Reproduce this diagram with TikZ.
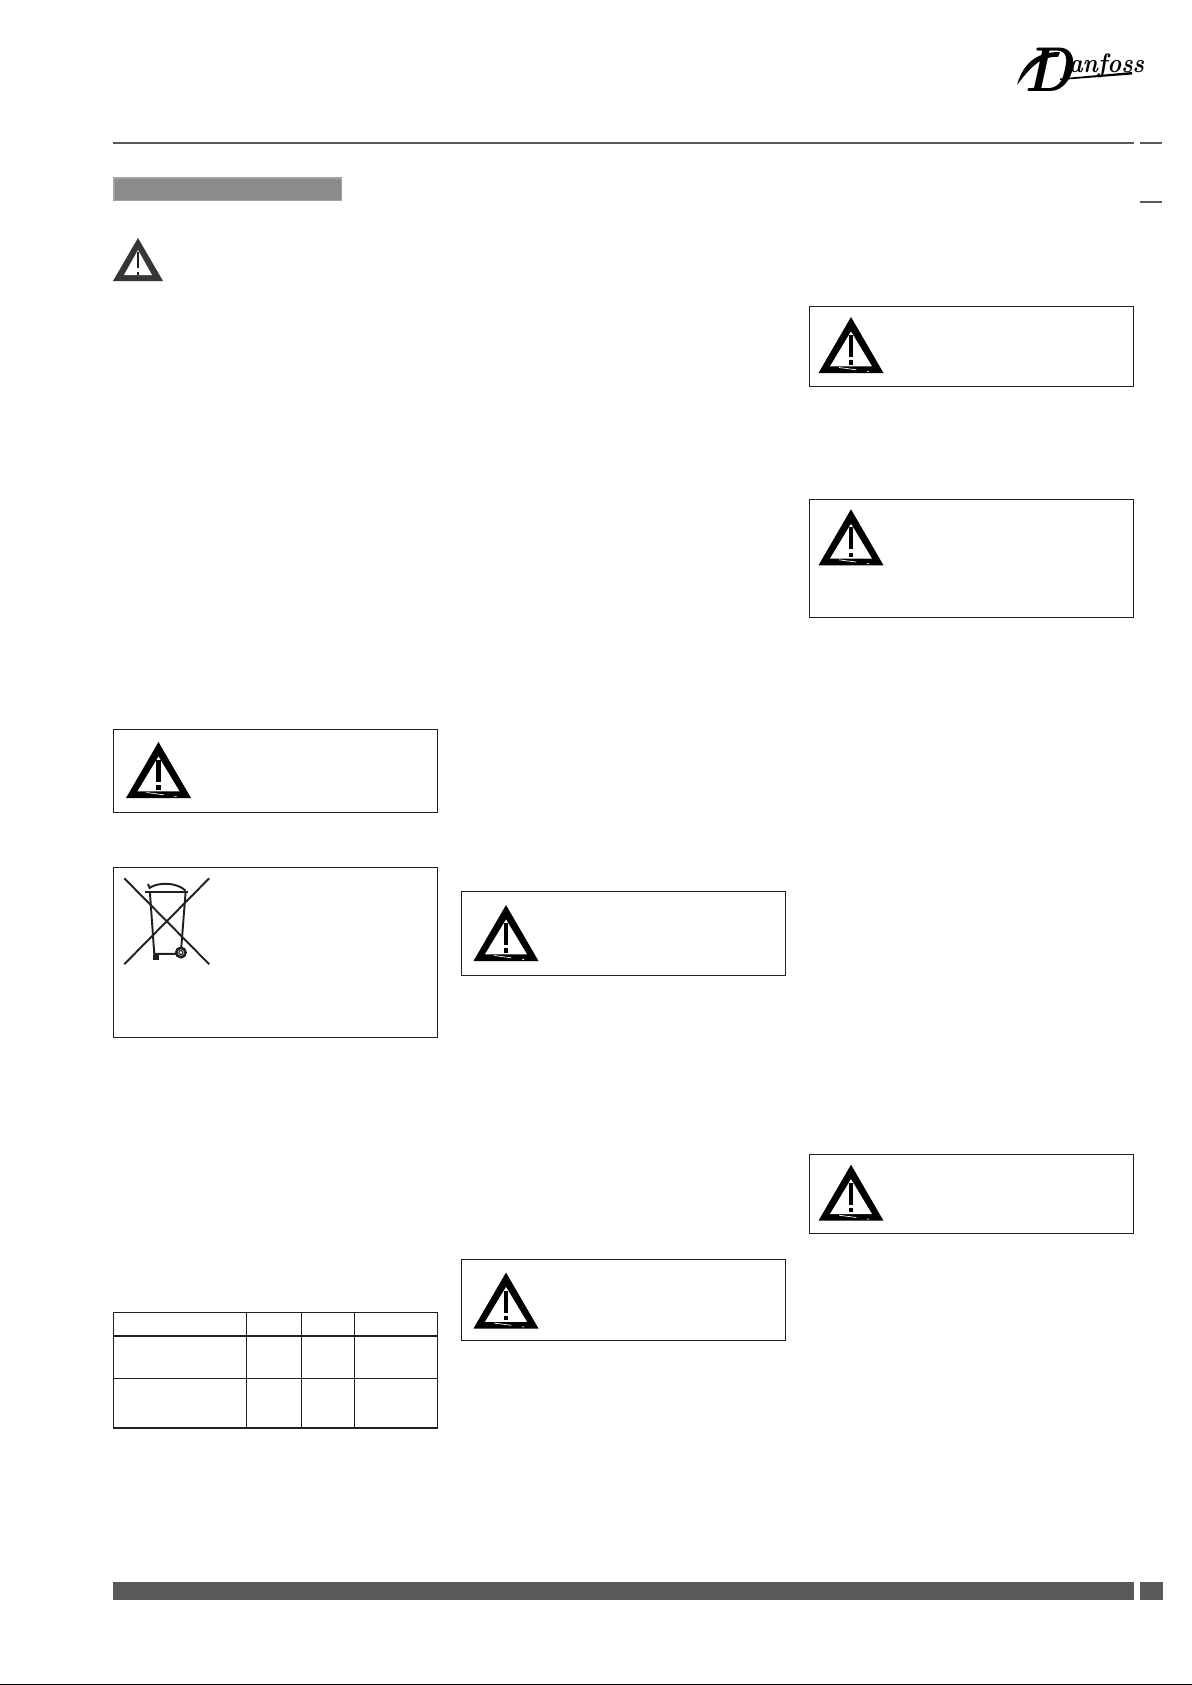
\documentclass[tikz,border=0pt]{standalone}
\usepackage{tikz}
\definecolor{inkblack}{HTML}{231F20}
\definecolor{bargrey}{HTML}{5B595A}
\definecolor{tabgrey}{HTML}{8C8A8A}
\tikzset{
    frameline/.style={draw=inkblack,line width=0.36pt},
    pagebar/.style={fill=bargrey,draw=none},
    pagerule/.style={draw=bargrey,line width=0.55pt},
    binline/.style={draw=inkblack,line width=0.55pt}
}
% warning sign, #1 #2 = apex of the triangle
\newcommand{\warnsign}[2]{
    \begin{scope}[shift={(#1,#2)}]
        \fill[black](0,0)--(32.5,56)--(-32.5,56)--cycle;
        \fill[white](0,14.5)--(21,49.3)--(-21,49.3)--cycle;
        \fill[black](-2.2,18)rectangle(2.2,40);
        \fill[black](-2.2,43.3)rectangle(2.2,47.7);
        \draw[white,line width=0.2pt,dash pattern=on 5 pt off 3 pt](-12,50.5)--(18,54.5);
    \end{scope}
}
\begin{document}
\begin{tikzpicture}[x=0.01cm,y=-0.01cm]
    \useasboundingbox(0,0)rectangle(1192,1685);
    % header
    \node[inner sep=0pt,anchor=base west,font=\bfseries\itshape,xscale=0.88] (logo) at (1024,73)
        {\raisebox{-5.4pt}{\fontsize{18}{18}\selectfont D}\kern-1.5pt\fontsize{7.6}{8}\selectfont anfoss};
    \fill[black](1017,85)..controls (1024,60) and (1040,52) .. (1060,52)--(1058,57)..controls (1040,56) and (1030,68) .. (1017,85);
    \fill[black](1060,78.5)--(1132,72)--(1132,74.5)--(1060,80)--cycle;
    \draw[pagerule](113,142.7)--(1134,142.7);
    \draw[pagerule](1140,142.7)--(1162,142.7);
    \draw[pagerule](1140,201.7)--(1162,201.7);
    \draw[fill=tabgrey,draw=tabgrey!80!white,line width=0.3pt](114,178)rectangle(341.7,200.7);
    % small sign on top of the first column
    \fill[inkblack!90!white](138,238)--(163,281)--(113,281)--cycle;
    \fill[white](138,250)--(152,275)--(124,275)--cycle;
    \fill[inkblack](137,251.7)rectangle(139,268);
    \fill[inkblack](137,272)rectangle(139,275);
    % framed notes
    \foreach \xl/\xr/\yt/\yb in {113.3/437.3/729.3/812.3,113.3/437.3/867.3/1037.3,
        461.3/785.3/891.3/975.3,461.3/785.3/1259.3/1340.3,
        809.3/1133.3/306.3/386.3,809.3/1133.3/499.3/617.3,809.3/1133.3/1154.3/1233.3}
        {\draw[frameline](\xl,\yt)rectangle(\xr,\yb);}
    \foreach \ax/\ay in {158.5/742,506/905,506/1272.5,851/317,851/509.3,851/1164.7}
        {\warnsign{\ax}{\ay}}
    % crossed out bin
    \begin{scope}[shift={(115,870)},x=0.00333cm,y=-0.00333cm]
        \draw[binline](28,25)--(283,283);
        \draw[binline](283,25)--(28,283);
        \draw[binline,line width=0.75pt](90,66)--(220,66);
        \draw[binline](105,68)--(118,252)--(185,252);
        \draw[binline](212,68)--(199,235);
        \draw[binline](103,54)..controls (130,36) and (185,36) .. (212,62);
        \draw[binline](99,42)--(105,56);
        \fill[inkblack](115,254)rectangle(131,269);
        \draw[binline,line width=0.75pt](198,248) circle [radius=14];
        \draw[binline,line width=0.3pt](198,248) circle [radius=6];
    \end{scope}
    % table
    \draw[frameline](113.3,1312.3)rectangle(437.3,1428);
    \draw[frameline](113.3,1336)--(437.3,1336);
    \draw[frameline](113.3,1378.3)--(437.3,1378.3);
    \foreach \xc in {246.3,301.3,354.3}
        \draw[frameline](\xc,1312.3)--(\xc,1428);
    % footer
    \fill[pagebar](113,1582)rectangle(1134,1600);
    \fill[pagebar](1140,1582)rectangle(1163,1600);
    \draw[black,line width=0.4pt](0,1684.3)--(1192,1684.3);
\end{tikzpicture}
\end{document}
